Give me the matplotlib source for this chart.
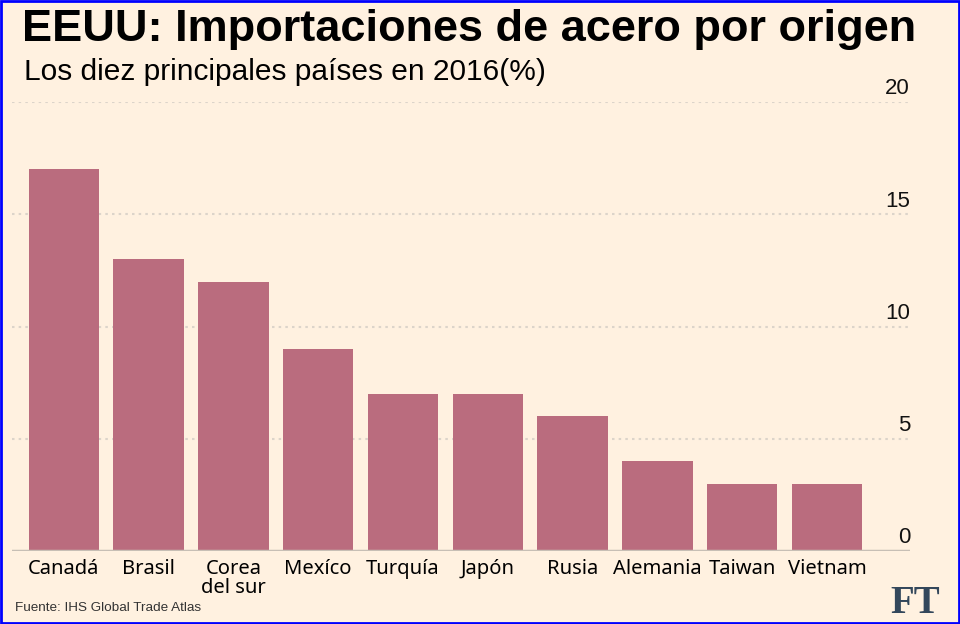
import matplotlib.pyplot as plt
from matplotlib.patches import Rectangle

# Datos (porcentaje de importaciones de acero, 2016)
paises = ["Canadá", "Brasil", "Corea\ndel sur", "Mexíco", "Turquía",
          "Japón", "Rusia", "Alemania", "Taiwan", "Vietnam"]
valores = [17, 13, 12, 9, 7, 7, 6, 4, 3, 3]
ticks_y = [0, 5, 10, 15, 20]

fondo = "#FFF1E0"
color_barra = "#BA6C7E"

fig = plt.figure(figsize=(9.6, 6.24), dpi=100, facecolor=fondo)
ax = fig.add_axes([0.0125, 0.117, 0.9355, 0.7195], facecolor=fondo)

x = list(range(len(paises)))
ax.bar(x, valores, width=0.83, color=color_barra, zorder=3)

ax.set_xlim(-0.61, 9.98)
ax.set_ylim(0, 20)

# Rejilla punteada y etiquetas del eje a la derecha
for t in ticks_y[1:]:
    ax.axhline(t, color="#DCD4CA", lw=1.5, ls=(0, (1.2, 2)), zorder=1)
ax.axhline(0, color="#C7BFB5", lw=2.5, zorder=4)
for t in ticks_y:
    ax.text(9.98, t + 0.12, str(t), ha="right", va="bottom",
            fontsize=16, family="Liberation Sans", color="#111111")

ax.set_xticks(x)
ax.set_xticklabels(paises, fontsize=14.5, family="Noto Sans", linespacing=0.9,
                   va="top")
ax.tick_params(axis="x", length=0, pad=6)
ax.set_yticks([])
for s in ax.spines.values():
    s.set_visible(False)

fig.text(0.023, 0.952, "EEUU: Importaciones de acero por origen", fontsize=32.5,
         fontweight="bold", family="Liberation Sans", va="center")
fig.text(0.025, 0.885, "Los diez principales países en 2016(%)", fontsize=21.5,
         family="Liberation Sans", va="center")
fig.text(0.016, 0.026, "Fuente: IHS Global Trade Atlas", fontsize=9.7,
         family="Liberation Sans", color="#333333", va="center")
fig.text(0.979, 0.033, "FT", fontsize=28, fontweight="bold",
         family="Liberation Serif", color="#33475B", ha="right", va="center")

# Marco azul alrededor de la imagen
fig.add_artist(Rectangle((0.001, 0.0015), 0.998, 0.997, transform=fig.transFigure,
                         fill=False, edgecolor="#0000FF", lw=2))

plt.savefig("out.png", dpi=100, facecolor=fondo)
